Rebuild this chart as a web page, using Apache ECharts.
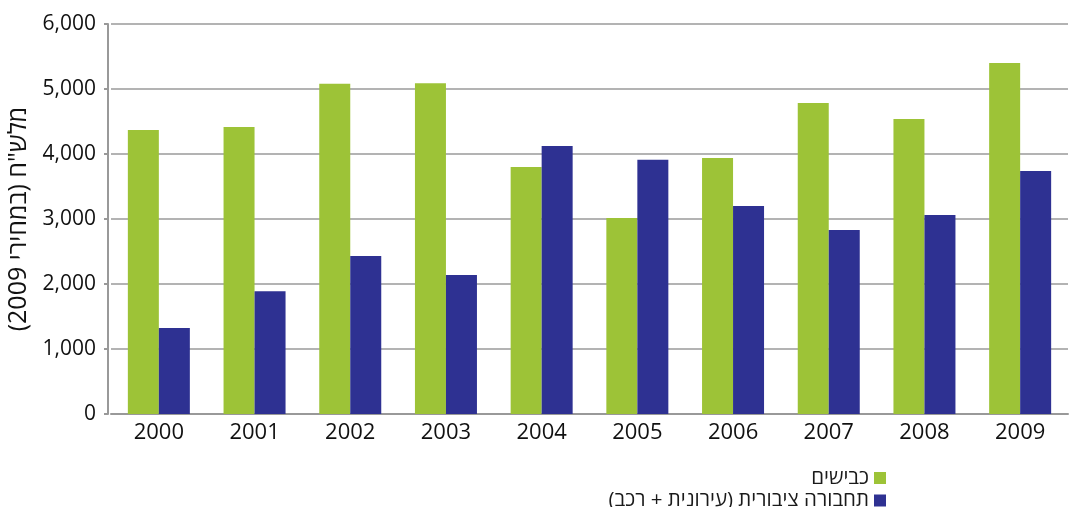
<!DOCTYPE html>
<html>
<head>
<meta charset="utf-8">
<script src="https://cdn.jsdelivr.net/npm/echarts@6/dist/echarts.min.js"></script>
<style>html,body{margin:0;padding:0;background:#fff}#c{width:1074px;height:507px}</style>
</head>
<body>
<div id="c"></div>
<script>
const categories = ['2000','2001','2002','2003','2004','2005','2006','2007','2008','2009'];
const roads = [4370, 4415, 5080, 5090, 3800, 3015, 3940, 4785, 4540, 5400];
const transit = [1325, 1890, 2430, 2140, 4125, 3910, 3200, 2830, 3060, 3740];
const seriesNames = ['כבישים\u200F', 'תחבורה ציבורית (עירונית + רכב)\u200F'];
const yAxisName = 'מלש"ח (במחירי 2009)\u200F';
const yTicks = {min: 0, max: 6000, interval: 1000};

const font = '"Open Sans", "DejaVu Sans", sans-serif';
const chart = echarts.init(document.getElementById('c'));
chart.setOption({
  animation: false,
  textStyle: {fontFamily: font},
  grid: {left: 111, right: 6, top: 24, bottom: 93, containLabel: false, outerBoundsMode: 'none'},
  legend: {
    orient: 'vertical', right: 188, top: 467.5, height: 80, padding: 0, align: 'right',
    itemWidth: 12, itemHeight: 12, itemGap: 1.5, icon: 'rect',
    textStyle: {fontSize: 20.5, lineHeight: 20, color: '#1a1a1a', fontFamily: font},
    data: seriesNames
  },
  xAxis: {
    type: 'category', data: categories,
    axisLine: {show: true, lineStyle: {color: '#999', width: 2}},
    axisTick: {show: false},
    axisLabel: {fontSize: 22, color: '#111', margin: 8}
  },
  yAxis: {
    type: 'value', min: yTicks.min, max: yTicks.max, interval: yTicks.interval,
    offset: 3,
    name: yAxisName, nameLocation: 'middle', nameRotate: 90, nameGap: 76,
    nameTextStyle: {fontSize: 25, color: '#111', fontFamily: font},
    axisLine: {show: true, lineStyle: {color: '#999', width: 2}},
    axisTick: {show: true, length: 4, lineStyle: {color: '#999', width: 2}},
    axisLabel: {fontSize: 21, color: '#111', margin: 12,
      formatter: v => v.toLocaleString('en-US')},
    splitLine: {lineStyle: {color: '#9a9a9a', width: 1.6}}
  },
  series: [
    {name: seriesNames[0], type: 'bar', data: roads, barWidth: 31, barGap: '0%',
      itemStyle: {color: '#9dc337'}},
    {name: seriesNames[1], type: 'bar', data: transit, barWidth: 31, barGap: '0%',
      itemStyle: {color: '#2e3192'}}
  ]
});
</script>
</body>
</html>
